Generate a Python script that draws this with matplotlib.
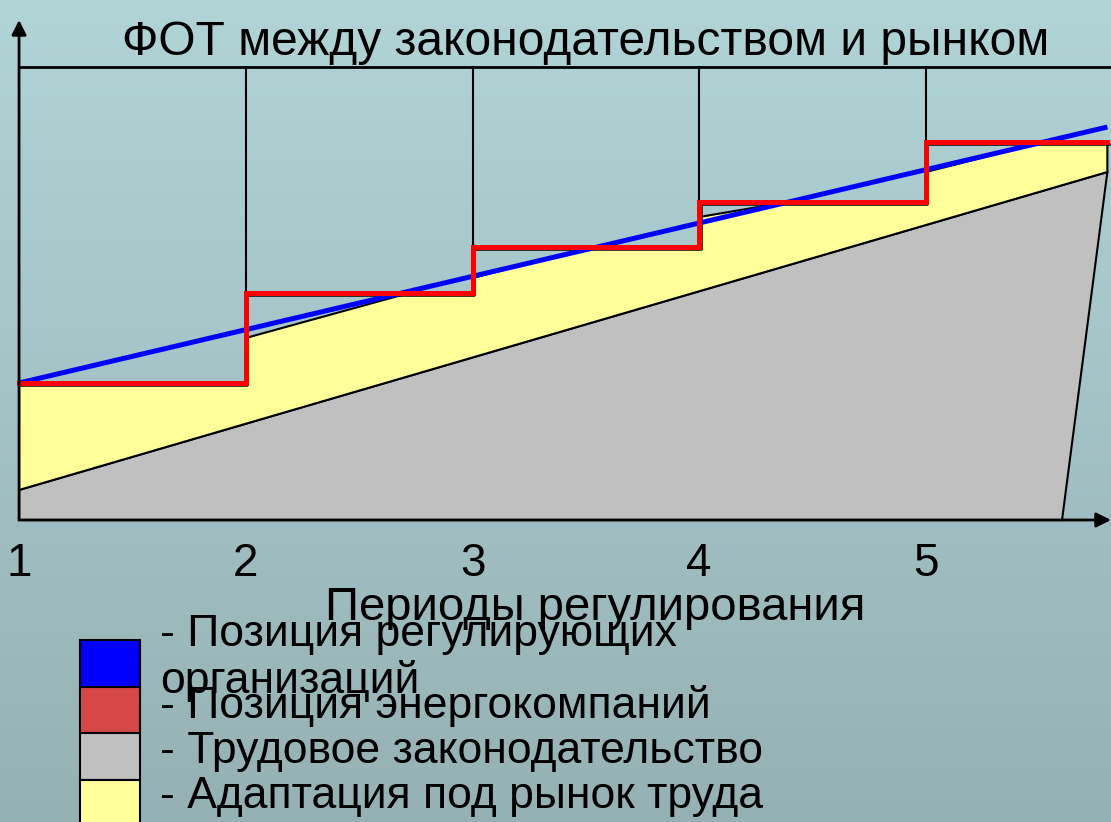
import matplotlib.pyplot as plt
import matplotlib.transforms as mtransforms
from matplotlib.patches import Polygon, Rectangle
import numpy as np

plt.rcParams['font.family'] = ['Liberation Sans', 'DejaVu Sans']

# данные (единицы: периоды по X, условный ФОТ по Y)
periods = [1, 2, 3, 4, 5]
x_end = 5.8
frame_top = 45.3
axis_top = 50.0

# позиция энергокомпаний (ступени)
company_level = [13.7, 22.7, 27.3, 31.8, 37.8]
# позиция регулирующих организаций (прямая)
reg_x = [1, 5.8]
reg_y = [13.7, 39.3]
# трудовое законодательство (серый многоугольник)
law_x = [1, 1, 5.8, 5.6]
law_y = [0, 3.0, 34.8, 0]
# верхняя граница адаптации под рынок труда
adapt_x = [1, 2, 2, 2.72, 3, 3, 3.53, 4, 4, 4.39, 5, 5, 5.52, 5.8]
adapt_y = [13.7, 13.7, 18.2, 22.7, 22.7, 24.2, 27.3, 27.3, 30.3, 31.8, 31.8, 34.8, 37.8, 37.8]

legend_colors = ['#0000FF', '#D64848', '#C0C0C0', '#FFFF99']
legend_texts = ['- Позиция регулирующих', 'организаций', '- Позиция энергокомпаний',
                '- Трудовое законодательство', '- Адаптация под рынок труда']

fig = plt.figure(figsize=(11.11, 8.22), dpi=100)
ax = fig.add_axes([0, 0, 1, 1])
ax.set_xlim(0.916, 5.816)
ax.set_ylim(-30.2, 52)
ax.axis('off')

# фон-градиент
grad = np.linspace(0, 1, 256).reshape(-1, 1)
top_c = np.array([177, 212, 215]) / 255
bot_c = np.array([150, 177, 180]) / 255
img = top_c + (bot_c - top_c) * grad[:, :, None]
ax.imshow(img, extent=[0, 1, 0, 1], transform=ax.transAxes, aspect='auto', zorder=0)

# серая область
ax.add_patch(Polygon(list(zip(law_x, law_y)), closed=True, facecolor='#C0C0C0',
                     edgecolor='black', lw=1.5, zorder=2))
# жёлтая область
yel_x = adapt_x + [law_x[2], law_x[1]]
yel_y = adapt_y + [law_y[2], law_y[1]]
ax.add_patch(Polygon(list(zip(yel_x, yel_y)), closed=True, facecolor='#FFFF99',
                     edgecolor='black', lw=1.5, zorder=3))

# рамка сверху и вертикальные линии периодов
ax.plot([1, 5.816], [frame_top, frame_top], color='black', lw=2, zorder=4)
for p, lev in zip(periods[1:], company_level[1:]):
    ax.plot([p, p], [lev, frame_top], color='black', lw=1.5, zorder=4)

# ступенчатая линия
sx = [1]
sy = [company_level[0]]
for i, lev in enumerate(company_level):
    right = periods[i + 1] if i + 1 < len(periods) else x_end
    sx += [right]
    sy += [lev]
    if i + 1 < len(company_level):
        sx += [right]
        sy += [company_level[i + 1]]
shadow = mtransforms.offset_copy(ax.transData, fig=fig, x=1.5, y=-1.5, units='dots')
ax.plot(sx, sy, color='black', lw=1.8, zorder=5, transform=shadow)
ax.plot(reg_x, reg_y, color='#0000FF', lw=3.6, zorder=6, solid_capstyle='butt')
ax.plot(sx, sy, color='#FF0000', lw=3.6, zorder=7, solid_joinstyle='miter')

# оси со стрелками
ax.annotate('', xy=(1, axis_top), xytext=(1, 0),
            arrowprops=dict(arrowstyle='-|>', color='black', lw=2, mutation_scale=22,
                            shrinkA=0, shrinkB=0), zorder=8)
ax.annotate('', xy=(5.816, 0), xytext=(1, 0),
            arrowprops=dict(arrowstyle='-|>', color='black', lw=2, mutation_scale=22,
                            shrinkA=0, shrinkB=0), zorder=8)

# подписи
ax.text(3.5, 46.5, 'ФОТ между законодательством и рынком', fontsize=34.5,
        ha='center', va='baseline', zorder=9)
for p in periods:
    ax.text(p, -5.6, str(p), fontsize=33, ha='center', va='baseline', zorder=9)
ax.text(3.54, -10.0, 'Периоды регулирования', fontsize=34, ha='center', va='baseline', zorder=9)

# легенда
sq_x, sq_w = 80 / 1111, 60 / 1111
sq_tops = [640, 687, 733, 780]
sq_bots = [687, 733, 780, 830]
for c, t, b in zip(legend_colors, sq_tops, sq_bots):
    ax.add_patch(Rectangle((sq_x, 1 - b / 822), sq_w, (b - t) / 822, transform=ax.transAxes,
                           facecolor=c, edgecolor='black', lw=1.5, zorder=9, clip_on=False))
text_base = [646, 693, 718, 763, 808]
for t, b in zip(legend_texts, text_base):
    ax.text(160 / 1111, 1 - b / 822, t, transform=ax.transAxes, fontsize=32,
            ha='left', va='baseline', zorder=10)

fig.savefig('out.png', dpi=100)
